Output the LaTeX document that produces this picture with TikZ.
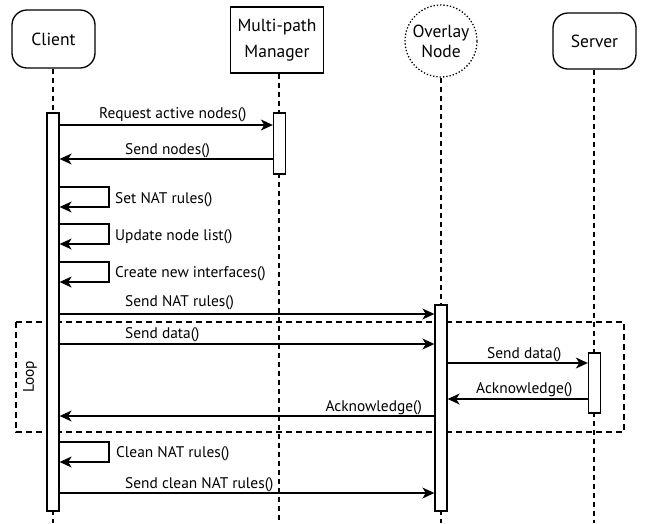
\documentclass[tikz,border=0pt]{standalone}
\usepackage{fontspec}
\setmainfont{PT Sans}
\usetikzlibrary{arrows.meta,calc}
\begin{document}
\begin{tikzpicture}[x=1pt,y=-1pt,
  font=\fontsize{15.4}{18}\selectfont,
  actor/.style={draw,line width=1.3pt,align=center,inner sep=0pt,font=\fontsize{17.5}{20}\selectfont},
  life/.style={line width=1.3pt,dash pattern=on 5pt off 4pt},
  bar/.style={draw,fill=white,line width=1.3pt,minimum width=12pt,inner sep=0pt},
  msg/.style={line width=1.3pt,-{Stealth[length=12pt,width=11pt,inset=3.5pt]}},
  lbl/.style={inner sep=0pt,anchor=base west}]
\useasboundingbox (0,0) rectangle (646,523);

% participants
\node[actor,rounded corners=15pt,minimum width=83pt,minimum height=58pt] (client) at (53.5,39) {Client};
\node[actor,minimum width=93pt,minimum height=66pt,font=\fontsize{17.5}{26}\selectfont] (mgr) at (277,40) {Multi-path\\Manager};
\node[actor,circle,dotted,minimum size=72pt] (ovl) at (441,41) {Overlay\\Node};
\node[actor,rounded corners=15pt,minimum width=83pt,minimum height=56pt] (srv) at (594.5,41) {Server};

% lifelines
\coordinate (cend) at (53,523);
\coordinate (mend) at (279,523);
\coordinate (oend) at (441,523);
\coordinate (send) at (594,523);
\draw[life] (client.south -| cend) -- (cend);
\draw[life] (mgr.south -| mend) -- (mend);
\draw[life] (ovl.south) -- (oend);
\draw[life] (srv.south -| send) -- (send);

% loop frame
\draw[line width=1.3pt,dash pattern=on 6pt off 4pt] (16,322) rectangle (624,432);
\node[rotate=90] (looplbl) at (30,377) {Loop};

% activation bars
\node[bar,minimum height=398pt] (ca) at (53,312) {};
\node[bar,minimum height=61pt] (ma) at (279.5,143.5) {};
\node[bar,minimum height=206pt] (oa) at (441,408) {};
\node[bar,minimum height=60pt] (sa) at (594.5,383) {};

% messages
\draw[msg] (ca.east |- 0,125) -- (ma.west |- 0,125);
\node[lbl] (t1) at (99,118) {Request active nodes()};
\draw[msg] (ma.west |- 0,159) -- (ca.east |- 0,159);
\node[lbl] (t2) at (125,154) {Send nodes()};

\draw[msg] (ca.east |- 0,187) -- (109,187) -- (109,207) -- (ca.east |- 0,207);
\node[lbl] (t3) at (115,203) {Set NAT rules()};
\draw[msg] (ca.east |- 0,224) -- (109,224) -- (109,244) -- (ca.east |- 0,244);
\node[lbl] (t4) at (115,240) {Update node list()};
\draw[msg] (ca.east |- 0,262) -- (109,262) -- (109,282) -- (ca.east |- 0,282);
\node[lbl] (t5) at (115,277) {Create new interfaces()};

\draw[msg] (ca.east |- 0,314) -- (oa.west |- 0,314);
\node[lbl] (t6) at (125,306) {Send NAT rules()};
\draw[msg] (ca.east |- 0,344) -- (oa.west |- 0,344);
\node[lbl] (t7) at (125,338) {Send data()};

\draw[msg] (oa.east |- 0,363) -- (sa.west |- 0,363);
\node[lbl] (t8) at (487,358) {Send data()};
\draw[msg] (sa.west |- 0,399) -- (oa.east |- 0,399);
\node[lbl] (t9) at (476,393) {Acknowledge()};
\draw[msg] (oa.west |- 0,416) -- (ca.east |- 0,416);
\node[lbl,anchor=base east] (t10) at (422,411) {Acknowledge()};

\draw[msg] (ca.east |- 0,442) -- (109,442) -- (109,462) -- (ca.east |- 0,462);
\node[lbl] (t11) at (116,457) {Clean NAT rules()};
\draw[msg] (ca.east |- 0,493) -- (oa.west |- 0,493);
\node[lbl] (t12) at (125,488) {Send clean NAT rules()};
\end{tikzpicture}
\end{document}
